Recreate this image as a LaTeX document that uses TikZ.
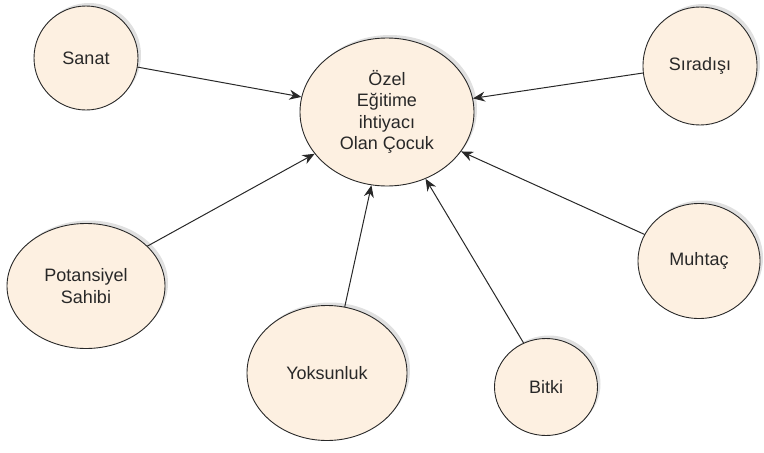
\documentclass[tikz,border=0pt]{standalone}
\usepackage{fontspec}
\setmainfont{Liberation Sans}
\usetikzlibrary{shapes.geometric,arrows.meta,shadows}
\definecolor{peach}{RGB}{253,240,225}
\definecolor{ink}{RGB}{40,40,40}
\tikzset{
	bubble/.style={ellipse,draw=ink,line width=.9pt,fill=peach,inner sep=0pt,align=center,text=ink,
		drop shadow={shadow xshift=3pt,shadow yshift=3pt,opacity=.12,fill=black}},
	link/.style={->,draw=ink,line width=1pt}
}
\begin{document}
\begin{tikzpicture}[x=1pt,y=-1pt,>={Stealth[length=12pt,width=10pt]},line join=round,line cap=round,font=\fontsize{18}{21.5}\selectfont]
		\useasboundingbox (0,0) rectangle (764,453);
		% centre
		\node [bubble,minimum width=174pt,minimum height=148pt] (cocuk) at (387,112) {Özel\\Eğitime\\ihtiyacı\\Olan Çocuk};
		% around it
		\node [bubble,minimum width=104pt,minimum height=104pt] (sanat) at (86,58) {Sanat};
		\node [bubble,minimum width=114pt,minimum height=118pt] (siradisi) at (700,66) {Sıradışı};
		\node [bubble,minimum width=158pt,minimum height=125pt] (potansiyel) at (86,286) {Potansiyel\\Sahibi};
		\node [bubble,minimum width=122pt,minimum height=115pt] (muhtac) at (699,261) {Muhtaç};
		\node [bubble,minimum width=160pt,minimum height=135pt] (yoksunluk) at (327,373) {Yoksunluk};
		\node [bubble,minimum width=103pt,minimum height=97pt] (bitki) at (546,387) {Bitki};
		% arrows
		\draw [link] (sanat.350) -- (cocuk.170);
		\draw [link] (siradisi.187) -- (cocuk.9);
		\draw [link] (potansiyel.33) -- (cocuk.210);
		\draw [link] (muhtac.154) -- (cocuk.332);
		\draw [link] (yoksunluk.75) -- (cocuk.258);
		\draw [link] (bitki.117) -- (cocuk.300);
	\end{tikzpicture}
\end{document}
